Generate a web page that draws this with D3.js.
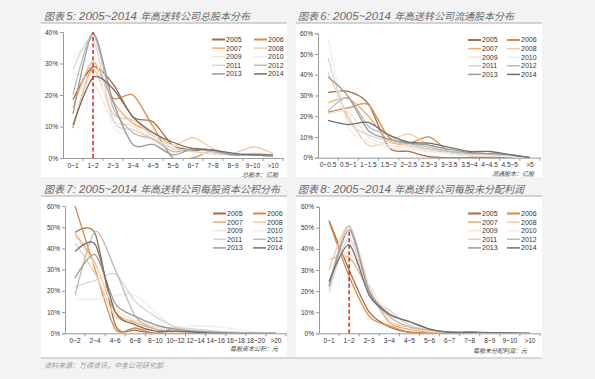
<!DOCTYPE html>
<html>
<head>
<meta charset="utf-8">
<script src="https://cdn.jsdelivr.net/npm/d3@7"></script>
<style>
body { margin: 0; background: #f3f3f3; }
svg { display: block; }
.tick text { font-family: "Liberation Sans", Arial, sans-serif; font-size: 6.5px; fill: #333; }
</style>
</head>
<body>
<div id="chart"></div>
<script>
// Series and colours (shared by all four charts)
var years = ["2005", "2006", "2007", "2008", "2009", "2010", "2011", "2012", "2013", "2014"];
var colors = ["#a66d43", "#d98a45", "#f0ab6d", "#f6caa3", "#fae2cf", "#eeeeee", "#d6d6d6", "#bbbbbb", "#999999", "#6e6e6e"];

// Chart 5: total share capital
var cats5 = ["0~1", "1~2", "2~3", "3~4", "4~5", "5~6", "6~7", "7~8", "8~9", "9~10", ">10"];
var totalShares = [
    [18.5, 29, 23.5, 13, 11.5, 4, 2.5, 2.5, 1, 1, 0.5],   // 2005
    [9.5, 29, 19, 20, 10, 0, 0, 2.5, 1, 1, 0.5],           // 2006
    [16, 30.5, 18, 11, 8, 4, 3, 2, 1, 1, 1],               // 2007
    [10, 28, 14, 12, 7, 4, 6.5, 3, 1.5, 3.5, 1.5],         // 2008
    [27, 24, 12, 10, 6, 4, 3, 2, 1, 1, 1],                 // 2009
    [32, 34, 10, 8, 5, 3, 2, 1, 1, 1, 0.5],                // 2010
    [28, 38, 12, 9, 6, 3, 2, 1.5, 1, 1, 1],                // 2011
    [20, 39.5, 16, 8, 6, 2, 3, 2, 1, 1.5, 1],              // 2012
    [14, 39.5, 18, 4.3, 4.3, 1, 3, 2.5, 1, 1, 0.5],        // 2013
    [10.5, 25.5, 22, 13, 8, 5, 3, 2.5, 1.5, 1, 1]          // 2014
];

// Chart 6: float share capital
var cats6 = ["0~0.5", "0.5~1", "1~1.5", "1.5~2", "2~2.5", "2.5~3", "3~3.5", "3.5~4", "4~4.5", "4.5~5", ">5"];
var floatShares = [
    [31.5, 32, 26, 5, 3, 0.5, 0, 0, 0, 0, 0],
    [22, 24, 25.5, 10, 7, 10, 3, 1, 1, 0.5, 0],
    [26.5, 28.5, 20, 8, 6, 4, 2, 1, 1, 0.5, 0],
    [41, 20, 6, 8, 11.5, 6, 3, 2, 1, 1, 0],
    [21, 22, 10, 6, 5, 3, 2, 1, 1, 0.5, 0],
    [57.5, 15, 8, 5, 4, 3, 2, 1, 1, 0.5, 0],
    [48, 18, 11, 8, 6, 4, 3, 2, 1.5, 1, 0],
    [22.5, 29, 15, 11, 7, 5, 3, 2, 2, 1.5, 0],
    [39, 29.5, 13, 9, 7, 6, 4, 2.5, 2, 1.5, 0],
    [18, 16, 17, 11, 7.5, 7, 5, 3, 3, 1.5, 0]
];

// Chart 7: capital reserve per share
var cats7 = ["0~2", "2~4", "4~6", "6~8", "8~10", "10~12", "12~14", "14~16", "16~18", "18~20", ">20"];
var reservePerShare = [
    [47.5, 47, 4, 1.5, 0, 0, 0, 0, 0, 0, 0],
    [60, 30, 2, 2.5, 0, 2.5, 0.5, 0, 0, 0, 0],
    [47, 33, 10, 5, 2, 1, 1, 0.5, 0, 0, 0],
    [42.5, 28, 8, 6, 3, 2.5, 1, 0.5, 0.5, 0, 0],
    [46, 32, 12, 6, 3, 2, 1.5, 1, 0.5, 0, 0],
    [16, 16, 18, 18, 10, 3, 3.5, 3, 2, 0.5, 0],
    [22, 25, 28, 15, 8, 3, 2, 1, 0.5, 0, 0],
    [18, 48, 30, 8, 2, 1, 0.5, 0, 0, 0, 0],
    [26, 37, 14, 8, 4, 2, 1, 0.5, 0, 0, 0],
    [38.5, 42, 10, 4, 1, 1, 0.5, 0, 0, 0, 0]
];

// Chart 8: undistributed profit per share
var cats8 = ["0~1", "1~2", "2~3", "3~4", "4~5", "5~6", "6~7", "7~8", "8~9", "9~10", ">10"];
var profitPerShare = [
    [53.5, 30, 10, 3, 0.5, 0, 0, 0, 0, 0, 0],
    [53, 27, 8, 3.5, 0.5, 0, 0, 0, 0, 0, 0],
    [35, 36, 20, 5, 2, 0.5, 0, 0, 0, 0, 0],
    [30, 51, 22, 6, 3, 1, 0.5, 0, 0, 0, 0],
    [35, 38, 23, 8, 3, 1, 0.5, 0.5, 0, 0, 0],
    [21, 47, 20, 10, 4, 1.5, 0.5, 0.5, 0.2, 0.2, 0],
    [19.5, 45, 18, 11, 4, 1.5, 0.5, 0.5, 0.2, 0.2, 0],
    [23, 50.5, 19, 8, 3, 1.5, 0.5, 0.5, 0.2, 0.2, 0],
    [22, 49, 20, 9, 5.5, 2, 0.5, 0.5, 0.2, 0.2, 0],
    [24.5, 42, 18, 9, 5.5, 2, 0.5, 0.5, 0.3, 0.2, 0]
];

var svg = d3.select("#chart").append("svg")
    .attr("width", 595)
    .attr("height", 379);

svg.append("rect")
    .attr("width", 595).attr("height", 379)
    .attr("fill", "#f3f3f3");

function drawPanel(p, idx) {
    // white card + top rule
    svg.append("rect")
        .attr("x", p.box[0]).attr("y", p.box[1])
        .attr("width", p.box[2]).attr("height", p.box[3])
        .attr("fill", "#fff");
    svg.append("line")
        .attr("x1", p.box[0]).attr("x2", p.box[0] + p.box[2])
        .attr("y1", p.box[1]).attr("y2", p.box[1])
        .attr("stroke", "#c6c6c6").attr("stroke-width", 1.5);

    // title
    var title = svg.append("text")
        .attr("x", p.titleX).attr("y", p.titleY)
        .attr("fill", "#6a6a6a")
        .style("font-style", "italic");
    title.append("tspan")
        .style("font-family", "'Noto Sans CJK SC'").style("font-size", "10px")
        .text("图表 ");
    title.append("tspan")
        .style("font-family", "'Liberation Sans', Arial").style("font-size", "11.5px")
        .text(p.num + ": 2005~2014 ");
    title.append("tspan")
        .style("font-family", "'Noto Sans CJK SC'").style("font-size", "10px")
        .text(p.title);

    var x = d3.scaleBand().domain(p.cats).range(p.xr);
    var y = d3.scaleLinear().domain([0, p.max]).range(p.yr);

    var chartGroup = svg.append("g");

    // y axis
    var leftAxis = d3.axisLeft(y)
        .tickValues(d3.range(0, p.max + 1, 10))
        .tickFormat(d => d + "%")
        .tickSize(3);
    var yAxis = chartGroup.append("g")
        .attr("transform", `translate(${p.xr[0]}, 0)`)
        .call(leftAxis);
    yAxis.select(".domain").attr("stroke", "#9a9a9a");
    yAxis.selectAll(".tick line").attr("stroke", "#9a9a9a");
    yAxis.selectAll(".tick text").attr("x", -5);

    // x axis (labels at centres, ticks between categories)
    var bottomAxis = d3.axisBottom(x).tickSize(0).tickPadding(5);
    var xAxis = chartGroup.append("g")
        .attr("transform", `translate(0, ${p.yr[0]})`)
        .call(bottomAxis);
    xAxis.select(".domain").attr("stroke", "#9a9a9a");
    xAxis.selectAll(".tick text").attr("dy", "0.71em");
    chartGroup.append("g").selectAll("line")
        .data(p.cats)
        .enter()
        .append("line")
        .attr("x1", d => x(d) + x.bandwidth())
        .attr("x2", d => x(d) + x.bandwidth())
        .attr("y1", p.yr[0]).attr("y2", p.yr[0] + 3)
        .attr("stroke", "#9a9a9a");

    // clip
    var clipId = "clip" + idx;
    svg.append("clipPath").attr("id", clipId)
        .append("rect")
        .attr("x", p.xr[0]).attr("y", p.yr[1] - 6)
        .attr("width", p.xr[1] - p.xr[0]).attr("height", p.yr[0] - p.yr[1] + 6);

    var line = d3.line()
        .x((d, i) => x(p.cats[i]) + x.bandwidth() / 2)
        .y(d => y(d))
        .curve(d3.curveCardinal.tension(0.2));

    chartGroup.append("g")
        .attr("clip-path", `url(#${clipId})`)
        .selectAll("path")
        .data(p.data)
        .enter()
        .append("path")
        .attr("d", d => line(d))
        .attr("fill", "none")
        .attr("stroke", (d, i) => colors[i])
        .attr("stroke-width", 1.3);

    // red dashed marker
    if (p.dash) {
        chartGroup.append("line")
            .attr("x1", x(p.dash[0]) + x.bandwidth() / 2)
            .attr("x2", x(p.dash[0]) + x.bandwidth() / 2)
            .attr("y1", y(0)).attr("y2", y(p.dash[1]))
            .attr("stroke", "#e02020")
            .attr("stroke-width", 1.5)
            .attr("stroke-dasharray", "4,2.5");
    }

    // legend
    var legend = chartGroup.append("g").selectAll("g")
        .data(years)
        .enter()
        .append("g")
        .attr("transform", (d, i) => `translate(${i % 2 ? p.legend[1] : p.legend[0]}, ${p.legend[2] + Math.floor(i / 2) * 8.6})`);
    legend.append("line")
        .attr("x1", 0).attr("x2", 13)
        .attr("stroke", (d, i) => colors[i])
        .attr("stroke-width", (d, i) => i < 2 ? 2 : 1.5);
    legend.append("text")
        .attr("x", 14).attr("dy", "0.35em")
        .style("font-family", "'Liberation Sans', Arial")
        .style("font-size", "7px")
        .attr("fill", "#333")
        .text(d => d);

    // unit label
    svg.append("text")
        .attr("x", p.unit[1]).attr("y", p.unit[2])
        .attr("text-anchor", "end")
        .style("font-family", "'Noto Sans CJK SC'")
        .style("font-size", "6px")
        .style("font-style", "italic")
        .attr("fill", "#444")
        .text(p.unit[0]);
}

var panels = [
    { num: 5, title: "年高送转公司总股本分布", titleX: 44, titleY: 19.5,
      box: [41, 23, 246, 154], cats: cats5, data: totalShares, max: 40,
      xr: [63, 283], yr: [158, 32], dash: ["1~2", 40],
      legend: [212, 254, 39.5], unit: ["总股本：亿股", 278, 176.5] },
    { num: 6, title: "年高送转公司流通股本分布", titleX: 298, titleY: 19.5,
      box: [296, 23, 246, 154], cats: cats6, data: floatShares, max: 60,
      xr: [318, 540], yr: [157.7, 33.3], dash: null,
      legend: [468, 507, 40], unit: ["流通股本：亿股", 534, 176] },
    { num: 7, title: "年高送转公司每股资本公积分布", titleX: 44, titleY: 193,
      box: [41, 196, 246, 161], cats: cats7, data: reservePerShare, max: 60,
      xr: [65, 286], yr: [333.3, 206], dash: null,
      legend: [213, 253, 213.5], unit: ["每股资本公积：元", 278, 351] },
    { num: 8, title: "年高送转公司每股未分配利润", titleX: 298, titleY: 193,
      box: [296, 196, 246, 161], cats: cats8, data: profitPerShare, max: 60,
      xr: [319, 540], yr: [333.3, 206.7], dash: ["1~2", 49],
      legend: [468, 507, 213.5], unit: ["每股未分配利润：元", 527, 352.5] }
];

panels.forEach((p, i) => drawPanel(p, i));

// bottom rule under lower charts + source
svg.append("line")
    .attr("x1", 41).attr("x2", 542)
    .attr("y1", 358).attr("y2", 358)
    .attr("stroke", "#cfcfcf").attr("stroke-width", 1.5);

svg.append("text")
    .attr("x", 44).attr("y", 368)
    .style("font-family", "'Noto Sans CJK SC'")
    .style("font-size", "7px")
    .style("font-style", "italic")
    .attr("fill", "#999")
    .text("资料来源：万得资讯，中金公司研究部");
</script>
</body>
</html>
